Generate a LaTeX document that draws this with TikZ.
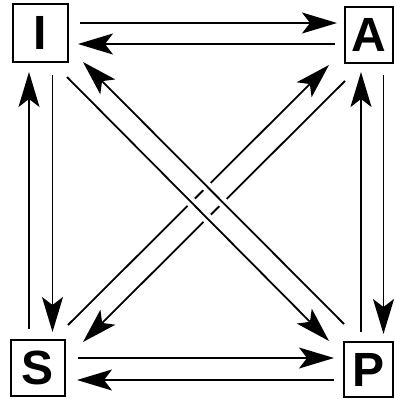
\documentclass[tikz,border=0pt]{standalone}
\usepackage{fontspec}
\setmainfont{Liberation Sans}
\usetikzlibrary{arrows.meta}
\begin{document}
\begin{tikzpicture}[x=1pt,y=-1pt,
  box/.style={draw, line width=2pt, inner sep=0pt, font=\fontsize{48}{48}\selectfont\bfseries},
  arr/.style={line width=1.8pt, -{Stealth[length=35pt,width=21pt,inset=8pt]}},
  gap/.style={draw=white, line width=10pt, shorten <=90pt, shorten >=90pt}]
\useasboundingbox (0,0) rectangle (394,399);
\node[box, minimum width=55pt, minimum height=58pt] (I) at (40.5,33) {I};
\node[box, minimum width=48pt, minimum height=56pt] (A) at (369,35) {A};
\node[box, minimum width=54pt, minimum height=56pt] (S) at (38,368) {S};
\node[box, minimum width=49pt, minimum height=55pt] (P) at (368.5,369.5) {P};
% endpoints
\coordinate (ia1) at (80,23);   \coordinate (ia2) at (337,23);
\coordinate (ai1) at (335,44);  \coordinate (ai2) at (78,44);
\coordinate (sp1) at (78,358);  \coordinate (sp2) at (334,358);
\coordinate (ps1) at (334,380); \coordinate (ps2) at (77,380);
\coordinate (is1) at (52.5,75); \coordinate (is2) at (52.5,332);
\coordinate (si1) at (29,329);  \coordinate (si2) at (29,72);
\coordinate (pa1) at (361,332); \coordinate (pa2) at (361,72);
\coordinate (ap1) at (383.5,75); \coordinate (ap2) at (383.5,334);
\coordinate (ip1) at (67,77);   \coordinate (ip2) at (329,341);
\coordinate (pi1) at (344,324); \coordinate (pi2) at (83,62);
\coordinate (sa1) at (68,325);  \coordinate (sa2) at (329,65);
\coordinate (as1) at (345,81);  \coordinate (as2) at (83,342);
% horizontal and vertical pairs
\draw[arr] (ia1) -- (ia2);
\draw[arr] (ai1) -- (ai2);
\draw[arr] (sp1) -- (sp2);
\draw[arr] (ps1) -- (ps2);
\draw[arr] (is1) -- (is2);
\draw[arr] (si1) -- (si2);
\draw[arr] (pa1) -- (pa2);
\draw[arr] (ap1) -- (ap2);
% diagonals: S--A pair underneath
\draw[arr] (sa1) -- (sa2);
\draw[arr] (as1) -- (as2);
\draw[gap] (ip1) -- (ip2);
\draw[gap] (pi1) -- (pi2);
\draw[arr] (ip1) -- (ip2);
\draw[arr] (pi1) -- (pi2);
\end{tikzpicture}
\end{document}
